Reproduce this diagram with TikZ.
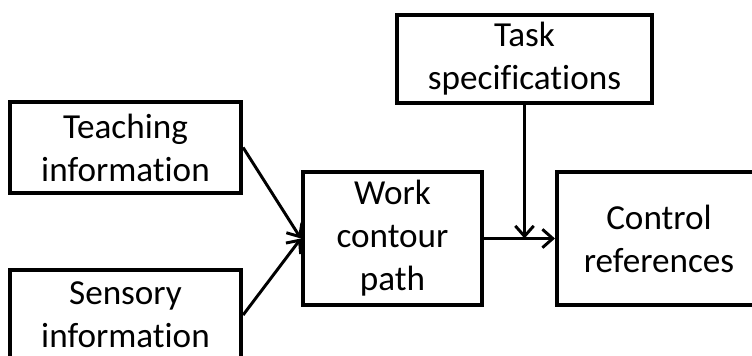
\documentclass[tikz,border=0pt]{standalone}
\usepackage{fontspec}
\setmainfont{Carlito}[Ligatures=NoCommon]
\usepackage{tikz}
\usetikzlibrary{arrows.meta,positioning}

\begin{document}
\begin{tikzpicture}[x=0.025cm,y=-0.025cm,>={Straight Barb[length=2.6mm,width=4.6mm]}]
  \tikzstyle{block}=[draw,line width=2.8pt,align=center,inner sep=0pt,
    font=\fontsize{25}{30.5}\selectfont]
  \useasboundingbox (0,0) rectangle (752,356);
  \node[block,minimum width=5.78cm,minimum height=2.28cm] (teach) at (125.5,147.5) {Teaching\\information};
  \node[block,minimum width=5.78cm,minimum height=2.25cm] (sense) at (125.5,315) {Sensory\\information};
  \node[block,minimum width=4.48cm,minimum height=3.33cm] (work) at (392.5,238.5) {Work\\contour\\path};
  \node[block,minimum width=6.38cm,minimum height=2.2cm] (task) at (524.5,59) {Task\\specifications};
  \node[block,minimum width=5.1cm,minimum height=3.33cm] (ctrl) at (659,238.5) {Control\\references};
  \coordinate (join) at (task.south |- work.east);
  \path[->,line width=2.1pt]
  (teach.east) edge (work.west)
  (sense.east) edge (work.west)
  (work.east) edge (ctrl.west)
  (task.south) edge (join)
  ;
\end{tikzpicture}
\end{document}
